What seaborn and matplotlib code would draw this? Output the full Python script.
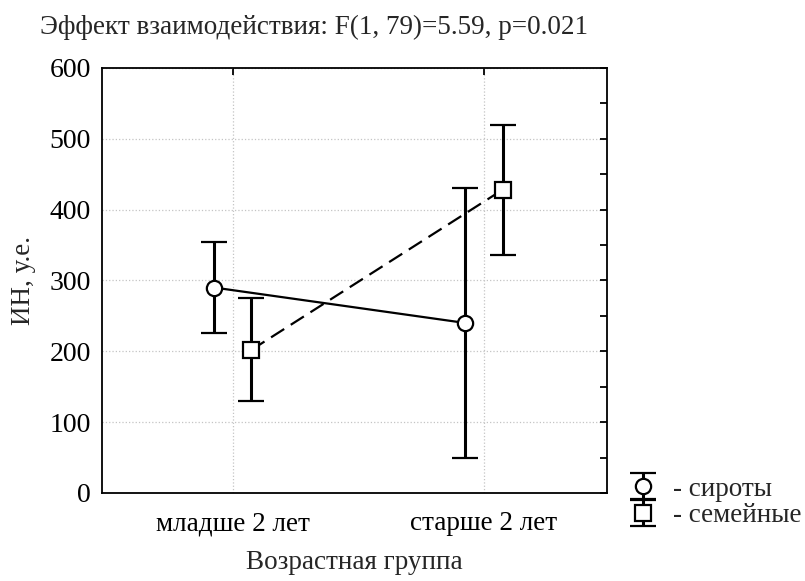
import numpy as np
import pandas as pd
import matplotlib
matplotlib.use("Agg")
import matplotlib.pyplot as plt
import seaborn as sns
from matplotlib.ticker import MultipleLocator

categories = ["младше 2 лет", "старше 2 лет"]
groups = ["сироты", "семейные"]
means_orphans = [290, 240]
lower_orphans = [226, 50]
upper_orphans = [354, 430]
means_family = [202, 428]
lower_family = [130, 336]
upper_family = [275, 519]
title = "Эффект взаимодействия: F(1, 79)=5.59, p=0.021"
xlabel = "Возрастная группа"
ylabel = "ИН, у.е."

sns.set_theme(style="white")
plt.rcParams["font.family"] = ["Liberation Serif", "DejaVu Serif"]

FS = 19.5
dodge = 0.074
rows = []
for gi, (g, m, lo, hi) in enumerate([
    (groups[0], means_orphans, lower_orphans, upper_orphans),
    (groups[1], means_family, lower_family, upper_family),
]):
    off = -dodge if gi == 0 else dodge
    for ci, c in enumerate(categories):
        rows.append(dict(group=g, cat=c, x=ci + off, y=m[ci], lo=lo[ci], hi=hi[ci]))
df = pd.DataFrame(rows)

fig = plt.figure(figsize=(8.05, 5.81), dpi=100)
ax = fig.add_axes([0.127, 0.1515, 0.627, 0.7315])

# grid
ax.set_axisbelow(True)
ax.yaxis.grid(True, which="major", color="#c4c4c4", linestyle=":", linewidth=0.9)
ax.xaxis.grid(True, which="major", color="#c4c4c4", linestyle=":", linewidth=0.9)

sns.lineplot(data=df, x="x", y="y", hue="group", style="group",
             palette=["black", "black"], dashes={groups[0]: "", groups[1]: (7, 3.5)},
             markers=False, linewidth=1.6, legend=False, ax=ax, sort=True)

markers = {groups[0]: "o", groups[1]: "s"}
msize = {groups[0]: 11, groups[1]: 11}
handles = []
for g in groups:
    sub = df[df.group == g]
    cont = ax.errorbar(sub.x, sub.y, yerr=[sub.y - sub.lo, sub.hi - sub.y],
                       fmt=markers[g], color="black", mfc="white", mec="black",
                       ms=msize[g], mew=1.6, elinewidth=2.2, capsize=9.6, capthick=2.2,
                       ecolor="black", zorder=5, label="- " + g)
    handles.append(cont)

ax.set_xlim(-0.52, 1.49)
ax.set_ylim(0, 600)
ax.set_xticks([0, 1])
ax.set_xticklabels(categories)
ax.yaxis.set_major_locator(MultipleLocator(100))
ax.yaxis.set_minor_locator(MultipleLocator(50))
ax.tick_params(axis="both", which="both", direction="in", top=True, right=True,
               colors="black", width=1.3)
ax.tick_params(axis="y", which="major", length=5, pad=8, labelsize=20)
ax.tick_params(axis="y", which="minor", length=5, left=False)
ax.tick_params(axis="x", which="major", length=5, pad=13, labelsize=FS)
for s in ax.spines.values():
    s.set_color("black")
    s.set_linewidth(1.3)

ax.set_xlabel(xlabel, fontsize=FS, labelpad=10)
ax.set_ylabel(ylabel, fontsize=FS, labelpad=10)
fig.text(0.05, 0.952, title, fontsize=FS, ha="left", va="center")

leg = fig.legend(handles=handles, labels=["- " + g for g in groups],
                 loc="center left", bbox_to_anchor=(0.772, 0.135), frameon=False,
                 fontsize=FS, handlelength=1.6, handletextpad=0.3, labelspacing=0.05,
                 borderaxespad=0, borderpad=0)

fig.savefig("out.png", dpi=100)
